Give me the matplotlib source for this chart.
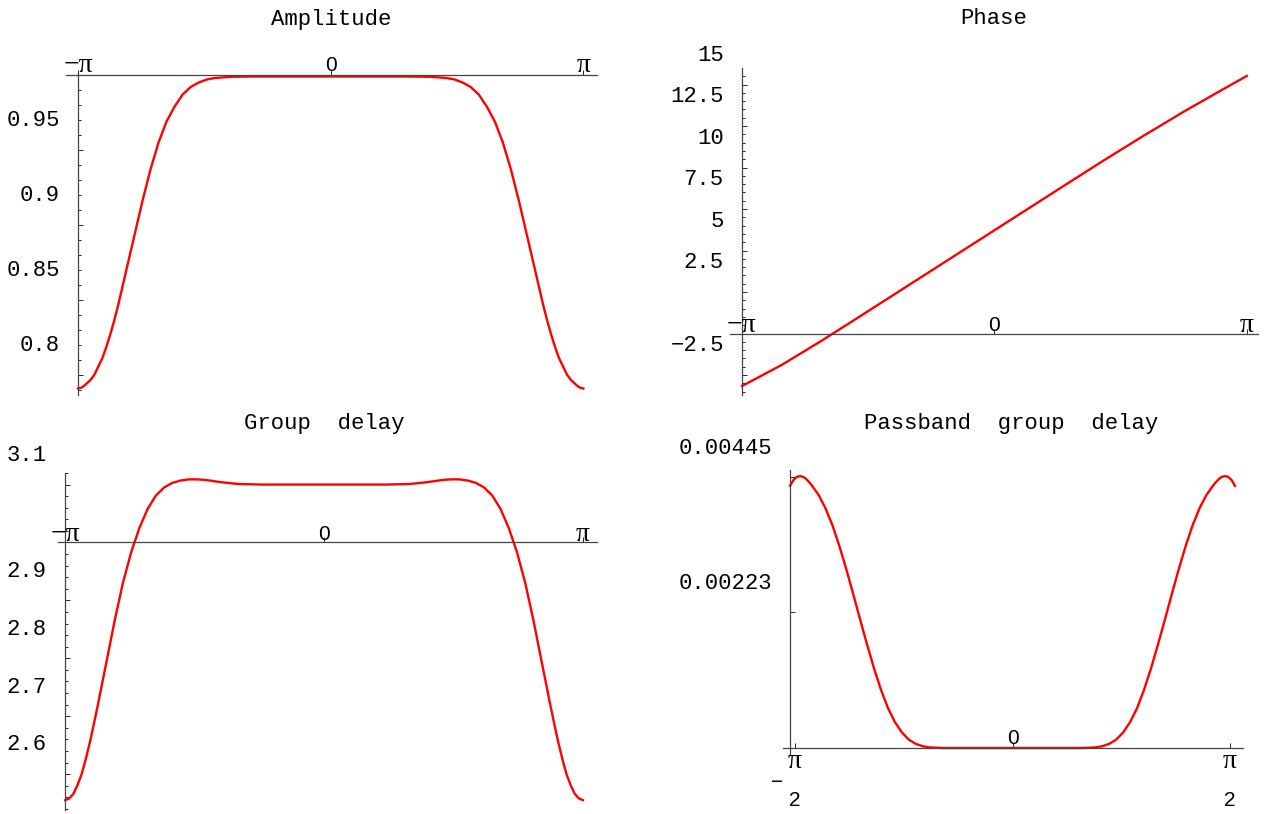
import numpy as np
import matplotlib.pyplot as plt

# amplitude response
amp_x = [-3.14, -3.09, -3.04, -2.99, -2.94, -2.89, -2.84, -2.79, -2.74, -2.69, -2.64,
         -2.54, -2.44, -2.34, -2.24, -2.14, -2.04, -1.94, -1.84, -1.74, -1.64,
         -1.54, -1.44, -1.24, -0.94, 0.0,
         0.94, 1.24, 1.44, 1.54, 1.64, 1.74, 1.84, 1.94, 2.04, 2.14,
         2.24, 2.34, 2.44, 2.54, 2.64, 2.69, 2.74, 2.79, 2.84, 2.89,
         2.94, 2.99, 3.04, 3.09, 3.14]
amp_y = [0.791, 0.7918, 0.794, 0.7965, 0.800, 0.8055, 0.811, 0.8185, 0.827, 0.8365, 0.847,
         0.870, 0.893, 0.916, 0.937, 0.955, 0.969, 0.979, 0.987, 0.992, 0.995,
         0.997, 0.998, 0.9988, 0.999, 0.999,
         0.999, 0.9988, 0.998, 0.997, 0.995, 0.992, 0.987, 0.979, 0.969, 0.955,
         0.937, 0.916, 0.893, 0.870, 0.847, 0.8365, 0.827, 0.8185, 0.811, 0.8055,
         0.800, 0.7965, 0.794, 0.7918, 0.791]

# phase response
ph_x = [-3.14, -2.64, -2.14, -1.64, -1.14, -0.64, -0.14, 0.36, 0.86, 1.36,
        1.86, 2.36, 2.86, 3.14]
ph_y = [-3.16, -1.87, -0.40, 1.14, 2.69, 4.24, 5.79, 7.34, 8.89, 10.43,
        11.93, 13.38, 14.76, 15.52]

# group delay
gd_x = [-3.14, -3.09, -3.04, -2.99, -2.94, -2.89, -2.84, -2.79, -2.74, -2.69, -2.64,
        -2.54, -2.44, -2.34, -2.24, -2.14, -2.04, -1.94, -1.84, -1.74, -1.64,
        -1.54, -1.44, -1.34, -1.24, -1.04, -0.74, 0.0,
        0.74, 1.04, 1.24, 1.34, 1.44, 1.54, 1.64, 1.74, 1.84, 1.94,
        2.04, 2.14, 2.24, 2.34, 2.44, 2.54, 2.64, 2.69, 2.74, 2.79,
        2.84, 2.89, 2.94, 2.99, 3.04, 3.09, 3.14]
gd_y = [2.555, 2.558, 2.566, 2.581, 2.600, 2.626, 2.655, 2.688, 2.722, 2.758, 2.793,
        2.865, 2.930, 2.983, 3.025, 3.058, 3.081, 3.095, 3.103, 3.107, 3.109,
        3.109, 3.108, 3.106, 3.104, 3.101, 3.100, 3.100,
        3.100, 3.101, 3.104, 3.106, 3.108, 3.109, 3.109, 3.107, 3.103, 3.095,
        3.081, 3.058, 3.025, 2.983, 2.930, 2.865, 2.793, 2.758, 2.722, 2.688,
        2.655, 2.626, 2.600, 2.581, 2.566, 2.558, 2.555]

# passband group delay
pb_x = [-1.606, -1.58, -1.555, -1.53, -1.505, -1.48, -1.45, -1.40, -1.35, -1.30,
        -1.25, -1.20, -1.15, -1.10, -1.05, -1.00, -0.95, -0.90, -0.85, -0.80,
        -0.75, -0.70, -0.65, -0.60, -0.50, -0.30, 0.0,
        0.30, 0.50, 0.60, 0.65, 0.70, 0.75, 0.80, 0.85, 0.90, 0.95,
        1.00, 1.05, 1.10, 1.15, 1.20, 1.25, 1.30, 1.35, 1.40, 1.45,
        1.48, 1.505, 1.53, 1.555, 1.58, 1.606]
pb_y = [0.00431, 0.00441, 0.00446, 0.00447, 0.00445, 0.00440, 0.00432, 0.00416, 0.00394, 0.00366,
        0.00332, 0.00294, 0.00253, 0.00211, 0.00170, 0.00131, 0.00096, 0.00066, 0.00043, 0.00026,
        0.00014, 0.00007, 0.00003, 0.00001, 0.0, 0.0, 0.0,
        0.0, 0.0, 0.00001, 0.00003, 0.00007, 0.00014, 0.00026, 0.00043, 0.00066, 0.00096,
        0.00131, 0.00170, 0.00211, 0.00253, 0.00294, 0.00332, 0.00366, 0.00394, 0.00416, 0.00432,
        0.00440, 0.00445, 0.00447, 0.00446, 0.00441, 0.00431]

W, H = 1265, 814
MONO = 'Liberation Mono'
SERIF = 'Liberation Serif'
AXC = '#444444'

fig = plt.figure(figsize=(W / 100, H / 100), dpi=100)


def box(l, t, r, b):
    return [l / W, 1 - b / H, (r - l) / W, (b - t) / H]


def setup(ax, xlim, ylim, x0, y0, xmaj, ymaj, ymin):
    ax.set_xlim(xlim)
    ax.set_ylim(ylim)
    ax.patch.set_visible(False)
    for s in ['top', 'right']:
        ax.spines[s].set_visible(False)
    ax.spines['left'].set_position(('data', x0))
    ax.spines['bottom'].set_position(('data', y0))
    for s in ['left', 'bottom']:
        ax.spines[s].set_color(AXC)
        ax.spines[s].set_linewidth(0.9)
    ax.set_xticks(xmaj)
    ax.set_yticks(ymaj)
    ax.set_yticks(ymin, minor=True)
    ax.tick_params(which='both', direction='in', labelleft=False, labelbottom=False,
                   color='black', width=0.6)
    ax.tick_params(which='major', length=3.5)
    ax.tick_params(which='minor', length=1.8)


def ylabels(ax, x0, vals, texts):
    for v, t in zip(vals, texts):
        ax.annotate(t, (x0, v), xytext=(-13, 21), textcoords='offset points',
                    ha='right', va='center', fontfamily=MONO, fontsize=16)


def xlabels(ax, y0, vals, texts, dy=6.5):
    for v, t in zip(vals, texts):
        if 'π' in t:
            ax.annotate(t, (v, y0), xytext=(0, dy), textcoords='offset points',
                        ha='center', va='center', fontfamily=SERIF, fontsize=20)
        else:
            ax.annotate(t, (v, y0), xytext=(0, dy), textcoords='offset points',
                        ha='center', va='center', fontfamily='Liberation Sans', fontsize=15)


pi = np.pi

# Amplitude
ax1 = fig.add_axes(box(66, 75, 597, 395))
setup(ax1, (-3.29, 3.31), (0.7867, 1.0), -pi, 1.0, [-pi, 0, pi],
      [0.8, 0.85, 0.9, 0.95], np.arange(0.79, 1.0, 0.01))
ax1.plot(amp_x, amp_y, color='red', lw=1.7, clip_on=False)
ylabels(ax1, -pi, [0.8, 0.85, 0.9, 0.95], ['0.8', '0.85', '0.9', '0.95'])
xlabels(ax1, 1.0, [-pi, 0, pi], ['−π', '0', 'π'])
fig.text(331 / W, 1 - 19 / H, 'Amplitude', ha='center', va='center', fontfamily=MONO, fontsize=16)

# Phase
ax2 = fig.add_axes(box(730, 68, 1258, 395))
setup(ax2, (-3.29, 3.28), (-3.7, 16.0), -pi, 0.0, [-pi, 0, pi],
      [-2.5, 2.5, 5, 7.5, 10, 12.5, 15], np.arange(-3.5, 16, 0.5))
ax2.plot(ph_x, ph_y, color='red', lw=1.7)
ylabels(ax2, -pi, [-2.5, 2.5, 5, 7.5, 10, 12.5, 15],
        ['−2.5', '2.5', '5', '7.5', '10', '12.5', '15'])
xlabels(ax2, 0.0, [-pi, 0, pi], ['−π', '0', 'π'], dy=6)
fig.text(994 / W, 1 - 19 / H, 'Phase', ha='center', va='center', fontfamily=MONO, fontsize=16)

# Group delay
ax3 = fig.add_axes(box(58, 473, 597, 810))
setup(ax3, (-3.227, 3.31), (2.538, 3.119), -pi, 3.0, [-pi, 0, pi],
      [2.6, 2.7, 2.8, 2.9, 3.0, 3.1], np.arange(2.54, 3.12, 0.02))
ax3.plot(gd_x, gd_y, color='red', lw=1.7)
ylabels(ax3, -pi, [2.6, 2.7, 2.8, 2.9, 3.1], ['2.6', '2.7', '2.8', '2.9', '3.1'])
xlabels(ax3, 3.0, [-pi, 0, pi], ['−π', '0', 'π'], dy=6)
fig.text(324 / W, 1 - 423 / H, 'Group  delay', ha='center', va='center', fontfamily=MONO, fontsize=16)

# Passband group delay
ax4 = fig.add_axes(box(783, 470, 1243, 755))
setup(ax4, (-1.657, 1.664), (-0.000115, 0.00457), -1.606, 0.0, [-pi / 2, 0, pi / 2],
      [0.00223, 0.00445], [])
ax4.plot(pb_x, pb_y, color='red', lw=1.7)
ylabels(ax4, -1.606, [0.00223, 0.00445], ['0.00223', '0.00445'])
xlabels(ax4, 0.0, [0], ['0'], dy=7)
for v in [-pi / 2, pi / 2]:
    ax4.annotate('π', (v, 0.0), xytext=(0, -10), textcoords='offset points',
                 ha='center', va='center', fontfamily=SERIF, fontsize=20)
    ax4.annotate('2', (v, 0.0), xytext=(0, -37.5), textcoords='offset points',
                 ha='center', va='center', fontfamily='Liberation Sans', fontsize=15)
ax4.annotate('−', (-pi / 2, 0.0), xytext=(-12.5, -24.5), textcoords='offset points',
             ha='center', va='center', fontfamily='Liberation Sans', fontsize=15)
fig.text(1011 / W, 1 - 423 / H, 'Passband  group  delay', ha='center', va='center',
         fontfamily=MONO, fontsize=16)

fig.savefig('out.png', dpi=100)
